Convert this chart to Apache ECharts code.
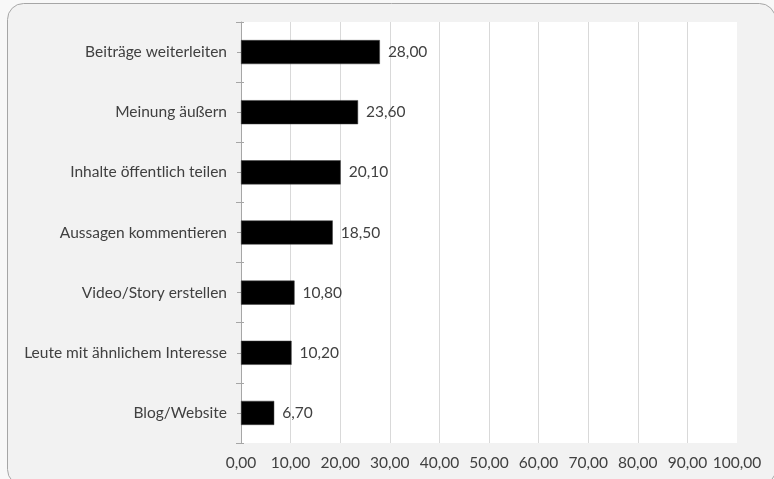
<!DOCTYPE html>
<html>
<head>
<meta charset="utf-8">
<script src="https://cdn.jsdelivr.net/npm/echarts@6/dist/echarts.min.js"></script>
<style>
  html, body { margin: 0; padding: 0; background: #f8f8f8; }
  #chart { width: 774px; height: 479px; }
</style>
</head>
<body>
<div id="chart"></div>
<script>
// categories top to bottom
const categories = [
  'Beiträge weiterleiten',
  'Meinung äußern',
  'Inhalte öffentlich teilen',
  'Aussagen kommentieren',
  'Video/Story erstellen',
  'Leute mit ähnlichem Interesse',
  'Blog/Website'
]
const values = [28.0, 23.6, 20.1, 18.5, 10.8, 10.2, 6.7]

const fmt = v => Number(v).toFixed(2).replace('.', ',')
const font = 'Lato, "Open Sans", sans-serif'
const textColor = '#404040'
const fs = 15.5

// no grid line on the right edge (100)
const gridColors = ['#d9d9d9', '#d9d9d9', '#d9d9d9', '#d9d9d9', '#d9d9d9', '#d9d9d9',
  '#d9d9d9', '#d9d9d9', '#d9d9d9', '#d9d9d9', 'rgba(0,0,0,0)']

const chart = echarts.init(document.getElementById('chart'))
const option = {
  animation: false,
  backgroundColor: 'transparent',
  textStyle: { fontFamily: font },
  graphic: [
    {
      type: 'rect',
      z: -10,
      silent: true,
      shape: { x: 7.5, y: 3.5, width: 768, height: 482, r: 16 },
      style: { fill: '#f2f2f2', stroke: '#a6a6a6', lineWidth: 1 }
    }
  ],
  grid: {
    left: 241,
    right: 37,
    top: 22,
    bottom: 36,
    show: true,
    backgroundColor: '#ffffff',
    borderWidth: 0
  },
  xAxis: {
    type: 'value',
    min: 0,
    max: 100,
    interval: 10,
    axisLine: { show: false },
    axisTick: { show: false },
    splitLine: {
      show: true,
      lineStyle: { color: gridColors, width: 1 }
    },
    axisLabel: {
      color: textColor,
      fontSize: fs,
      fontFamily: font,
      margin: 12,
      formatter: v => fmt(v)
    }
  },
  yAxis: [
    {
      type: 'category',
      inverse: true,
      data: categories,
      axisLine: { show: true, lineStyle: { color: '#a6a6a6' } },
      axisTick: { show: true, length: 5, lineStyle: { color: '#a6a6a6' } },
      axisLabel: {
        color: textColor,
        fontSize: fs,
        fontFamily: font,
        margin: 14
      }
    },
    {
      type: 'category',
      inverse: true,
      position: 'left',
      data: categories,
      axisLine: { show: false },
      axisTick: {
        show: true,
        alignWithLabel: true,
        length: 4,
        lineStyle: { color: '#a6a6a6' }
      },
      axisLabel: { show: false }
    },
    {
      type: 'category',
      inverse: true,
      position: 'left',
      data: categories,
      axisLine: { show: false },
      axisTick: {
        show: true,
        inside: true,
        length: 3,
        lineStyle: { color: '#a6a6a6' }
      },
      axisLabel: { show: false }
    }
  ],
  series: [
    {
      type: 'bar',
      yAxisIndex: 0,
      data: values,
      barWidth: '40%',
      itemStyle: { color: '#000000', borderColor: '#404040', borderWidth: 0.5 },
      label: {
        show: true,
        position: 'right',
        distance: 8,
        color: textColor,
        fontSize: fs,
        fontFamily: font,
        formatter: p => fmt(p.value)
      }
    }
  ]
}
chart.setOption(option)
</script>
</body>
</html>
